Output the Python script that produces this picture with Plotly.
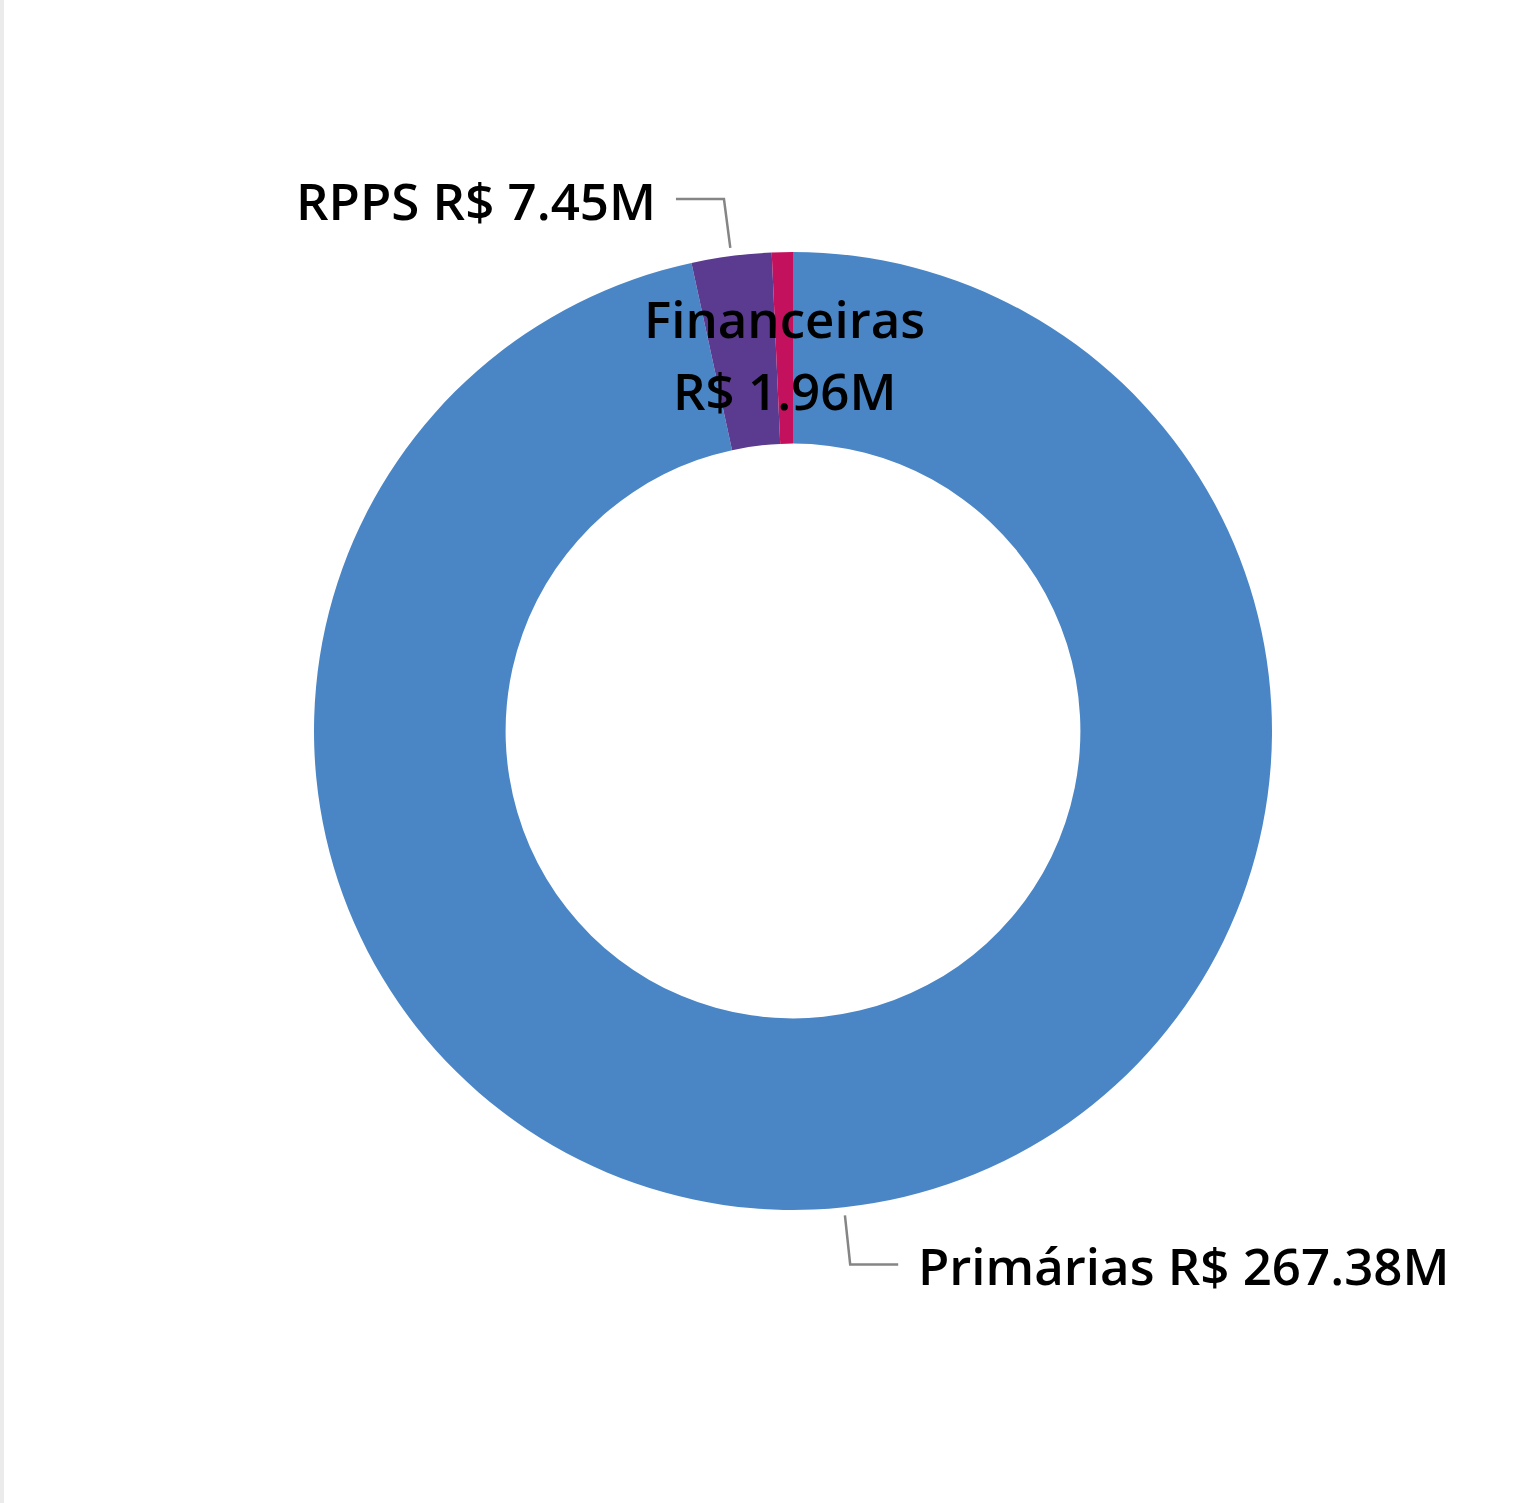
import math
import plotly.graph_objects as go

# ---- data ----
categories = ["Primárias", "RPPS", "Financeiras"]
values = [267.38, 7.45, 1.96]
value_labels = ["R$ 267.38M", "R$ 7.45M", "R$ 1.96M"]
colors = ["#4a86c6", "#5a3b90", "#c3115d"]

W, H = 1538, 1503
CX, CY, R = 793, 731, 479
HOLE = 0.6

def px(x):
    return x / W

def py(y):
    return 1 - y / H

fig = go.Figure(go.Pie(
    labels=categories,
    values=values,
    hole=HOLE,
    sort=False,
    direction="clockwise",
    rotation=0,
    marker=dict(colors=colors, line=dict(width=0)),
    textinfo="none",
    hoverinfo="label+value",
    showlegend=False,
    domain=dict(x=[px(CX - R), px(CX + R)], y=[py(CY + R), py(CY - R)]),
))

FONT = dict(family="Open Sans, Noto Sans, sans-serif", size=51, color="#000000", weight=600)
LINE_COLOR = "#858585"

total = sum(values)
cum = 0.0
shapes = [dict(type="rect", xref="paper", yref="paper", x0=0, x1=px(4), y0=0, y1=1,
               fillcolor="#ebebeb", line=dict(width=0), layer="below")]
annotations = []
for name, v, lab in zip(categories, values, value_labels):
    mid = (cum + v / 2) / total * 2 * math.pi  # clockwise from top
    cum += v
    s, c = math.sin(mid), math.cos(mid)
    frac = v / total
    if frac < 0.02:
        # inside label, at middle of the ring
        rm = R * (1 + HOLE) / 2
        x, y = CX + rm * s, CY - rm * c + 6
        annotations.append(dict(x=px(x), y=py(y - 36), xref="paper", yref="paper",
                                text=name, showarrow=False, font=FONT,
                                xanchor="center", yanchor="middle"))
        annotations.append(dict(x=px(x), y=py(y + 36), xref="paper", yref="paper",
                                text=lab, showarrow=False, font=FONT,
                                xanchor="center", yanchor="middle"))
    else:
        r0, r1 = R * 1.017, R * 1.12
        x0, y0 = CX + r0 * s, CY - r0 * c
        x1, y1 = CX + r1 * s, CY - r1 * c
        sign = 1 if s >= 0 else -1
        x2 = x1 + sign * 48
        shapes.append(dict(type="path", xref="paper", yref="paper",
                           path=f"M {px(x0)},{py(y0)} L {px(x1)},{py(y1)} L {px(x2)},{py(y1)}",
                           line=dict(color=LINE_COLOR, width=2.5)))
        annotations.append(dict(x=px(x2 + sign * 18), y=py(y1 + 1), xref="paper", yref="paper",
                                text=f"{name} {lab}", showarrow=False, font=FONT,
                                xanchor="left" if sign > 0 else "right", yanchor="middle"))

fig.update_layout(
    width=W, height=H,
    margin=dict(l=0, r=0, t=0, b=0),
    paper_bgcolor="white",
    plot_bgcolor="white",
    shapes=shapes,
    annotations=annotations,
)

fig.write_html("out.html", config={"displayModeBar": False},
               post_script="document.body.style.margin='0';")
